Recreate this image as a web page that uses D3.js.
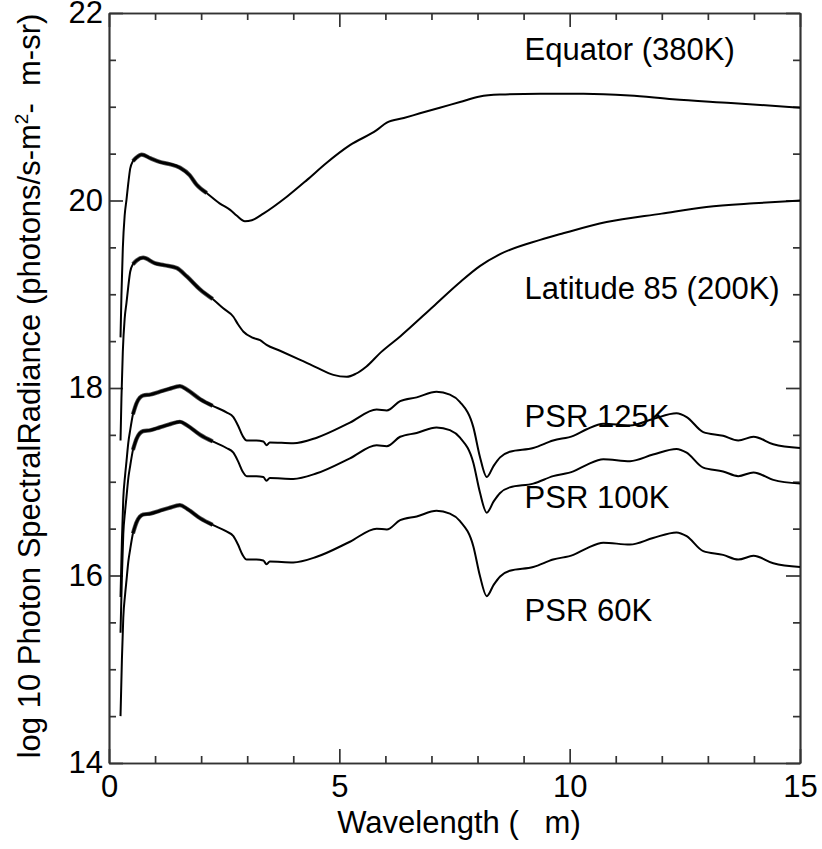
<!DOCTYPE html>
<html><head><meta charset="utf-8">
<script src="https://cdn.jsdelivr.net/npm/d3@7"></script>
<style>
html,body{margin:0;padding:0;background:#fff;}
svg text{font-family:"Liberation Sans",Arial,Helvetica,sans-serif;fill:#000;}
</style></head><body>
<svg id="chart" width="822" height="849"></svg>
<script>
// ---- data ----
const equatorX = [0.25,0.27,0.30,0.34,0.38,0.42,0.46,0.52,0.6,0.71,0.9,1.11,1.3,1.54,1.75,1.9,2.12,2.4,2.63,2.77,2.95,3.1,3.35,3.86,4.3,4.72,5.23,5.81,6.03,6.4,6.75,7.18,7.62,8.05,8.5,9.36,10.3,11.3,12.24,13.5,15.0];
const equatorY = [18.54,18.99,19.49,19.84,20.01,20.19,20.34,20.42,20.46,20.49,20.45,20.41,20.39,20.35,20.27,20.17,20.08,19.97,19.90,19.84,19.78,19.79,19.86,20.04,20.22,20.40,20.59,20.75,20.83,20.88,20.93,20.99,21.05,21.11,21.13,21.14,21.14,21.12,21.08,21.04,20.99];

const latitudeX = [0.25,0.27,0.30,0.34,0.38,0.42,0.46,0.52,0.6,0.74,1.0,1.2,1.47,1.69,1.98,2.25,2.48,2.70,2.80,2.92,3.1,3.28,3.42,3.7,4.15,4.5,4.87,5.16,5.35,5.59,5.9,6.32,7.04,7.6,8.05,8.5,9.36,9.86,10.8,12.0,12.97,14.0,15.0];
const latitudeY = [17.44,17.89,18.39,18.74,18.91,19.09,19.24,19.32,19.36,19.39,19.33,19.31,19.28,19.19,19.05,18.95,18.85,18.76,18.68,18.60,18.54,18.51,18.46,18.40,18.30,18.22,18.14,18.12,18.15,18.23,18.38,18.55,18.87,19.12,19.30,19.43,19.58,19.65,19.77,19.86,19.93,19.97,20.0];

const psrX = [0.25,0.28,0.31,0.35,0.38,0.42,0.46,0.52,0.6,0.74,0.9,1.1,1.3,1.54,1.7,1.98,2.25,2.55,2.7,2.8,2.9,2.99,3.2,3.35,3.42,3.49,4.0,4.51,5.23,5.81,6.03,6.32,6.68,7.11,7.4,7.62,7.91,8.05,8.2,8.35,8.49,8.7,9.21,9.64,10.08,10.37,10.73,11.31,11.81,12.32,12.54,12.9,13.33,13.66,13.99,14.42,15.0];
const psr125Y = [15.77,16.37,16.82,17.07,17.22,17.42,17.55,17.72,17.84,17.92,17.93,17.96,17.99,18.02,17.98,17.88,17.81,17.74,17.69,17.60,17.49,17.44,17.44,17.43,17.39,17.42,17.41,17.47,17.63,17.77,17.76,17.86,17.90,17.96,17.93,17.85,17.58,17.27,17.05,17.17,17.26,17.32,17.36,17.44,17.49,17.56,17.62,17.60,17.67,17.73,17.69,17.53,17.49,17.44,17.48,17.40,17.36];
const psr100Y = [15.39,15.99,16.44,16.69,16.84,17.04,17.17,17.34,17.46,17.54,17.55,17.58,17.61,17.64,17.60,17.50,17.43,17.36,17.31,17.22,17.11,17.06,17.06,17.05,17.01,17.04,17.03,17.09,17.25,17.39,17.38,17.48,17.52,17.58,17.55,17.47,17.20,16.89,16.67,16.79,16.88,16.94,16.98,17.06,17.11,17.18,17.24,17.22,17.29,17.35,17.31,17.15,17.11,17.06,17.10,17.02,16.98];
const psr60Y = [14.50,15.10,15.55,15.80,15.95,16.15,16.28,16.45,16.57,16.65,16.66,16.69,16.72,16.75,16.71,16.61,16.54,16.47,16.42,16.33,16.22,16.17,16.17,16.16,16.12,16.15,16.14,16.20,16.36,16.50,16.49,16.59,16.63,16.69,16.66,16.58,16.31,16.00,15.78,15.90,15.99,16.05,16.09,16.17,16.22,16.29,16.35,16.33,16.40,16.46,16.42,16.26,16.22,16.17,16.21,16.13,16.09];

const seriesLabels = ["Equator (380K)","Latitude 85 (200K)","PSR 125K","PSR 100K","PSR 60K"];
const labelX = [9.0, 9.0, 9.0, 9.0, 9.0];
const labelY = [21.5, 18.95, 17.58, 16.715, 15.51];

const xMajorTicks = [0,5,10,15];
const xMinorTicks = [1,2,3,4,6,7,8,9,11,12,13,14];
const yMajorTicks = [14,16,18,20,22];
const yMinorTicks = [14.5,15,15.5,16.5,17,17.5,18.5,19,19.5,20.5,21,21.5];

const xTitle = "Wavelength (   m)";
// ---- chart ----
const svg = d3.select("#chart");
const x = d3.scaleLinear().domain([0,15]).range([109,800]);
const y = d3.scaleLinear().domain([14,22]).range([763,13]);
const FS = 31;
const axisColor = "#333";

function styleAxis(g){
  g.selectAll(".domain").attr("stroke",axisColor).attr("stroke-width",1.7);
  g.selectAll(".tick line").attr("stroke",axisColor).attr("stroke-width",1.7);
  g.selectAll(".tick text").attr("font-size",FS).attr("font-family",'"Liberation Sans",Arial,sans-serif').attr("fill","#000");
}
// bottom
svg.append("g").attr("transform","translate(0,763)")
  .call(d3.axisBottom(x).tickValues(xMajorTicks).tickSize(-14).tickSizeOuter(0).tickPadding(12).tickFormat(d3.format("d"))).call(styleAxis);
svg.append("g").attr("transform","translate(0,763)")
  .call(d3.axisBottom(x).tickValues(xMinorTicks).tickSize(-7).tickSizeOuter(0).tickFormat("")).call(styleAxis);
// top
svg.append("g").attr("transform","translate(0,13)")
  .call(d3.axisTop(x).tickValues(xMajorTicks).tickSize(-14).tickSizeOuter(0).tickFormat("")).call(styleAxis);
svg.append("g").attr("transform","translate(0,13)")
  .call(d3.axisTop(x).tickValues(xMinorTicks).tickSize(-7).tickSizeOuter(0).tickFormat("")).call(styleAxis);
// left
svg.append("g").attr("transform","translate(109,0)")
  .call(d3.axisLeft(y).tickValues(yMajorTicks).tickSize(-14).tickSizeOuter(0).tickPadding(6).tickFormat(d3.format("d"))).call(styleAxis);
svg.append("g").attr("transform","translate(109,0)")
  .call(d3.axisLeft(y).tickValues(yMinorTicks).tickSize(-7).tickSizeOuter(0).tickFormat("")).call(styleAxis);
// right
svg.append("g").attr("transform","translate(800,0)")
  .call(d3.axisRight(y).tickValues(yMajorTicks).tickSize(-14).tickSizeOuter(0).tickFormat("")).call(styleAxis);
svg.append("g").attr("transform","translate(800,0)")
  .call(d3.axisRight(y).tickValues(yMinorTicks).tickSize(-7).tickSizeOuter(0).tickFormat("")).call(styleAxis);

// lines
const series = [
  d3.zip(equatorX, equatorY),
  d3.zip(latitudeX, latitudeY),
  d3.zip(psrX, psr125Y),
  d3.zip(psrX, psr100Y),
  d3.zip(psrX, psr60Y)
];
const line = d3.line().x(d=>x(d[0])).y(d=>y(d[1])).curve(d3.curveMonotoneX);
series.forEach(s=>{
  svg.append("path").datum(s).attr("d",line).attr("fill","none").attr("stroke","#000").attr("stroke-width",2);
  // noisy short-wavelength section drawn thicker
  const noisy = s.filter(d=>d[0]>=0.5 && d[0]<=2.3);
  svg.append("path").datum(noisy).attr("d",line).attr("fill","none").attr("stroke","#555").attr("stroke-width",4.2);
  svg.append("path").datum(noisy).attr("d",line).attr("fill","none").attr("stroke","#000").attr("stroke-width",2.8);
});

// curve labels
seriesLabels.forEach((t,i)=>{
  svg.append("text").attr("x",x(labelX[i])+1).attr("y",y(labelY[i])).attr("font-size",FS).text(t);
});

// axis titles
svg.append("text").attr("x",459).attr("y",833).attr("text-anchor","middle").attr("font-size",FS)
  .style("white-space","pre").text(xTitle);
const yt = svg.append("text").attr("transform","translate(40,386) rotate(-90)").attr("text-anchor","middle")
  .attr("font-size",FS).style("white-space","pre");
yt.append("tspan").text("log 10 Photon SpectralRadiance (photons/s-m");
yt.append("tspan").attr("font-size",19).attr("dy",-12).text("2");
yt.append("tspan").attr("dy",12).text("-  m-sr)");
</script>
</body></html>
